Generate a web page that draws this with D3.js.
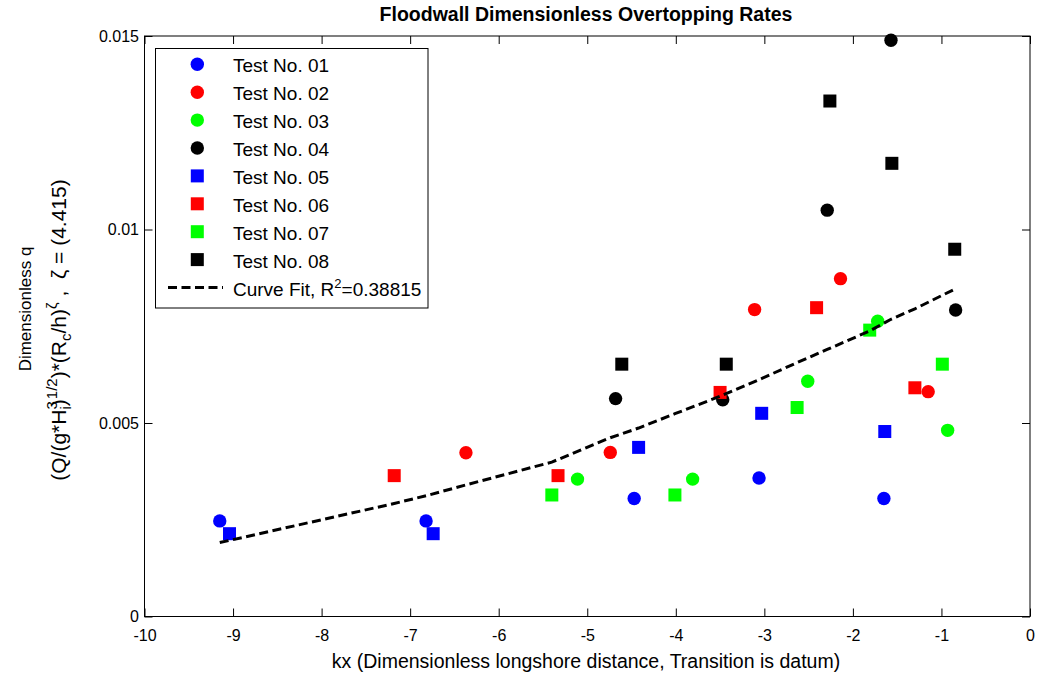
<!DOCTYPE html>
<html>
<head>
<meta charset="utf-8">
<script src="https://cdn.jsdelivr.net/npm/d3@7"></script>
<style>
  html, body { margin: 0; padding: 0; background: #fff; }
  svg text { font-family: Arial, "Liberation Sans", Helvetica, sans-serif; fill: #000; white-space: pre; }
</style>
</head>
<body>
<svg id="chart" width="1038" height="675"></svg>
<script>
// ---- data ----
const seriesNames = ["Test No. 01", "Test No. 02", "Test No. 03", "Test No. 04",
                     "Test No. 05", "Test No. 06", "Test No. 07", "Test No. 08"];
const seriesColors = ["#0000ff", "#ff0000", "#00ff00", "#000000",
                      "#0000ff", "#ff0000", "#00ff00", "#000000"];
const seriesShapes = ["circle", "circle", "circle", "circle",
                      "square", "square", "square", "square"];

// kx positions for each test
const test01X = [-9.15, -6.82, -4.47, -3.06, -1.65];
const test02X = [-6.37, -4.74, -3.11, -2.14, -1.15];
const test03X = [-5.11, -3.81, -2.51, -1.72, -0.93];
const test04X = [-4.68, -3.47, -2.29, -1.57, -0.84];
const test05X = [-9.04, -6.74, -4.42, -3.03, -1.64];
const test06X = [-7.18, -5.33, -3.50, -2.41, -1.30];
const test07X = [-5.40, -4.01, -2.63, -1.81, -0.99];
const test08X = [-4.61, -3.43, -2.26, -1.56, -0.85];

// dimensionless overtopping rate q for each test
const test01Q = [0.00247, 0.00247, 0.00305, 0.00358, 0.00305];
const test02Q = [0.00423, 0.00424, 0.00793, 0.00873, 0.00581];
const test03Q = [0.00355, 0.00355, 0.00608, 0.00763, 0.00481];
const test04Q = [0.00563, 0.00560, 0.01050, 0.01489, 0.00792];
const test05Q = [0.00214, 0.00214, 0.00437, 0.00525, 0.00478];
const test06Q = [0.00364, 0.00364, 0.00579, 0.00798, 0.00591];
const test07Q = [0.00314, 0.00314, 0.00540, 0.00740, 0.00652];
const test08Q = [0.00652, 0.00652, 0.01332, 0.01171, 0.00949];

// fitted curve, evaluated at the tested kx positions
const fitX = [-9.15, -7.18, -6.82, -6.37, -5.40, -4.74, -4.42, -4.01, -3.50,
              -3.06, -2.63, -2.29, -1.81, -1.57, -1.30, -0.84];
const fitQ = [0.00191, 0.00292, 0.00312, 0.00340, 0.00399, 0.00462, 0.00487, 0.00524, 0.00569,
              0.00612, 0.00656, 0.00690, 0.00738, 0.00768, 0.00795, 0.00847];

const xTicks = [-10, -9, -8, -7, -6, -5, -4, -3, -2, -1, 0];
const yTicks = [0, 0.005, 0.01, 0.015];
const yTickLabels = ["0", "0.005", "0.01", "0.015"];

const seriesX = [test01X, test02X, test03X, test04X, test05X, test06X, test07X, test08X];
const seriesQ = [test01Q, test02Q, test03Q, test04Q, test05Q, test06Q, test07Q, test08Q];

// ---- layout ----
const svg = d3.select("#chart");
const plotL = 144.5, plotR = 1030, plotT = 36, plotB = 616.5;

const x = d3.scaleLinear().domain([-10, 0]).range([plotL, plotR]);
const y = d3.scaleLinear().domain([0, 0.015]).range([plotB, plotT]);

// plot frame
svg.append("rect")
  .attr("x", plotL).attr("y", plotT)
  .attr("width", plotR - plotL).attr("height", plotB - plotT)
  .attr("fill", "#fff").attr("stroke", "#000").attr("stroke-width", 1);

// axes with inward ticks on all four sides
const tickLen = 8;
const gx = svg.append("g").attr("transform", `translate(0,${plotB})`)
  .call(d3.axisBottom(x).tickValues(xTicks).tickSizeInner(-tickLen).tickSizeOuter(0)
        .tickPadding(13));
const gy = svg.append("g").attr("transform", `translate(${plotL},0)`)
  .call(d3.axisLeft(y).tickValues(yTicks).tickSizeInner(-tickLen).tickSizeOuter(0)
        .tickPadding(5.5).tickFormat((d, i) => yTickLabels[i]));
const gt = svg.append("g").attr("transform", `translate(0,${plotT})`)
  .call(d3.axisTop(x).tickValues(xTicks).tickSizeInner(-tickLen).tickSizeOuter(0).tickFormat(""));
const gr = svg.append("g").attr("transform", `translate(${plotR},0)`)
  .call(d3.axisRight(y).tickValues(yTicks).tickSizeInner(-tickLen).tickSizeOuter(0).tickFormat(""));

[gx, gy, gt, gr].forEach(g => {
  g.select(".domain").remove();
  g.selectAll(".tick line").attr("stroke", "#000");
  g.selectAll(".tick text")
    .attr("font-family", "Arial, 'Liberation Sans', Helvetica, sans-serif")
    .attr("font-size", 16).attr("fill", "#000");
});
// x tick labels use a plain hyphen for negatives
gx.selectAll(".tick text").text(d => String(d));

// ---- markers ----
const markerR = 6.7, markerSide = 13;

function drawMarker(g, shape, color, cx, cy) {
  if (shape === "circle") {
    g.append("circle").attr("cx", cx).attr("cy", cy).attr("r", markerR)
      .attr("fill", color);
  } else {
    g.append("rect").attr("x", cx - markerSide / 2).attr("y", cy - markerSide / 2)
      .attr("width", markerSide).attr("height", markerSide).attr("fill", color);
  }
}

const marks = svg.append("g");
seriesNames.forEach((name, s) => {
  const g = marks.append("g").attr("class", "series");
  seriesX[s].forEach((kx, i) => {
    drawMarker(g, seriesShapes[s], seriesColors[s], x(kx), y(seriesQ[s][i]));
  });
});

// ---- fitted curve ----
const line = d3.line().x(d => x(d[0])).y(d => y(d[1]));
svg.append("path")
  .datum(fitX.map((kx, i) => [kx, fitQ[i]]))
  .attr("d", line)
  .attr("fill", "none").attr("stroke", "#000")
  .attr("stroke-width", 3).attr("stroke-dasharray", "9,4.5");

// ---- legend ----
const legX = 155.5, legY = 48.5, legW = 272.5, legH = 259.5;
const legend = svg.append("g");
legend.append("rect").attr("x", legX).attr("y", legY).attr("width", legW).attr("height", legH)
  .attr("fill", "#fff").attr("stroke", "#000").attr("stroke-width", 1);

const rowY0 = 64.3, rowStep = 27.9, legFont = 19;
seriesNames.forEach((name, s) => {
  const cy = rowY0 + s * rowStep;
  drawMarker(legend, seriesShapes[s], seriesColors[s], 197.3, cy);
  legend.append("text").attr("x", 233).attr("y", cy + 8)
    .attr("font-size", legFont).text(name);
});
const fitRowY = rowY0 + 8 * rowStep;
legend.append("line").attr("x1", 168).attr("x2", 223).attr("y1", fitRowY).attr("y2", fitRowY)
  .attr("stroke", "#000").attr("stroke-width", 3).attr("stroke-dasharray", "9,4.5");
const fitLabel = legend.append("text").attr("x", 233).attr("y", fitRowY + 8).attr("font-size", legFont);
fitLabel.append("tspan").text("Curve Fit, R");
fitLabel.append("tspan").attr("font-size", 13).attr("dy", -8).text("2");
fitLabel.append("tspan").attr("dy", 8).text("=0.38815");

// ---- titles ----
svg.append("text").attr("x", 586).attr("y", 21)
  .attr("text-anchor", "middle").attr("font-size", 19.5).attr("font-weight", "bold")
  .text("Floodwall Dimensionless Overtopping Rates");

svg.append("text").attr("x", 586).attr("y", 668)
  .attr("text-anchor", "middle").attr("font-size", 19.5)
  .text("kx (Dimensionless longshore distance, Transition is datum)");

// y-axis label, two lines
svg.append("text").attr("transform", "translate(31,309) rotate(-90)")
  .attr("text-anchor", "middle").attr("font-size", 17)
  .text("Dimensionless q");

const yl2 = svg.append("text").attr("transform", "translate(66,330) rotate(-90)")
  .attr("text-anchor", "middle").attr("font-size", 21);
yl2.append("tspan").text("(Q/(g*H");
yl2.append("tspan").attr("font-size", 15).attr("dy", -9).text("3");
yl2.append("tspan").attr("font-size", 15).attr("dx", -8.3).attr("dy", 14).text("i");
yl2.append("tspan").attr("dy", -5).text(")");
yl2.append("tspan").attr("font-size", 15).attr("dy", -9).text("1/2");
yl2.append("tspan").attr("dy", 9).text(")*(R");
yl2.append("tspan").attr("font-size", 15).attr("dy", 5).text("c");
yl2.append("tspan").attr("dy", -5).text("/h)");
yl2.append("tspan").attr("font-size", 15).attr("dy", -9).text("ζ");
yl2.append("tspan").attr("dy", 9).text(" ,  ζ = (4.415)");
</script>
</body>
</html>
